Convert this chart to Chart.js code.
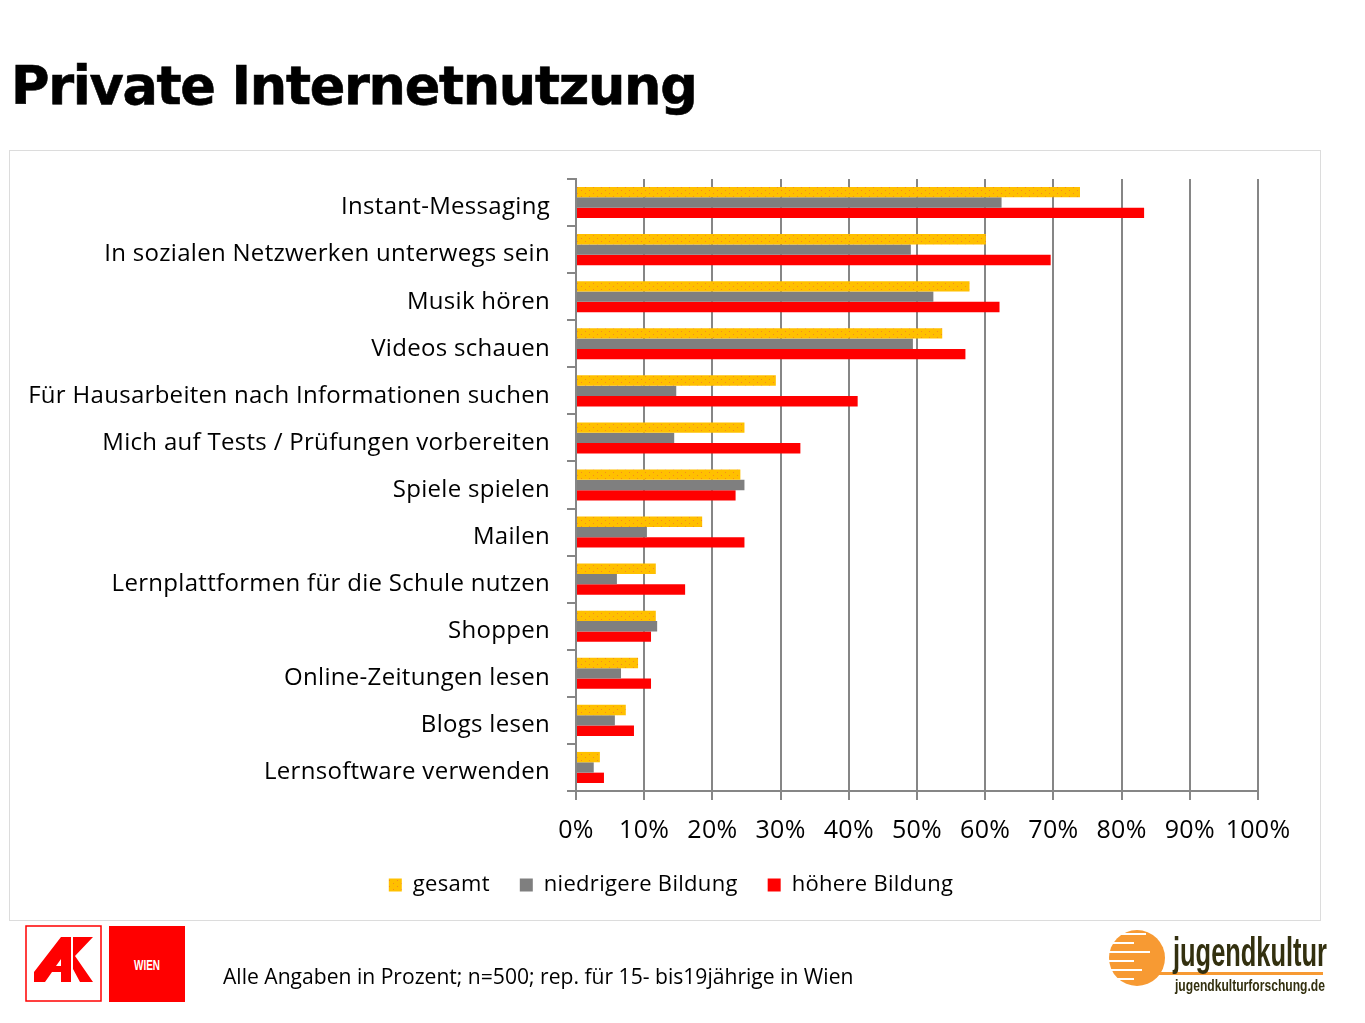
<!DOCTYPE html>
<html lang="de">
<head>
<meta charset="utf-8">
<title>Private Internetnutzung</title>
<script src="https://cdn.jsdelivr.net/npm/chart.js@4"></script>
<style>
    html, body { margin: 0; padding: 0; background: #fff; }
    #page { position: relative; width: 1365px; height: 1023px; overflow: hidden; }
    #page > * { position: absolute; }
    #title { left: 11px; top: 55px; margin: 0; font: bold 52.5px "DejaVu Sans"; letter-spacing: -1.3px; -webkit-text-stroke: 0.6px #000; color: #000; white-space: nowrap; }
    #frame { left: 9px; top: 150px; width: 1310px; height: 769px; border: 1px solid #dcdcdc; }
    #chart { left: 0; top: 0; }
    #note { left: 223px; top: 961px; font: 21.1px "Open Sans"; color: #000; white-space: nowrap; }
    #akLogo { left: 25px; top: 925px; }
    #jkLogo { left: 1100px; top: 925px; }
</style>
</head>
<body>
<div id="page">
    <h1 id="title">Private Internetnutzung</h1>
    <div id="frame"></div>
    <canvas id="chart" width="1365" height="1023"></canvas>
    <div id="note">Alle Angaben in Prozent; n=500; rep. für 15- bis19jährige in Wien</div>

    <svg id="akLogo" width="162" height="80" viewBox="0 0 162 80">
        <rect x="1" y="1" width="75" height="75" fill="#fff" stroke="#f00" stroke-width="1.5"/>
        <rect x="84" y="1" width="76" height="76" fill="#f00"/>
        <polygon fill="#f00" points="9,47 36,12 46,12 46,57 36,57 36,47 27,47 20,57 9,57"/>
        <polygon fill="#fff" points="31,41 36,41 36,34"/>
        <polygon fill="#f00" points="48,12 68,12 50,31 68,57 55,57 48,44"/>
        <text x="122" y="45" textLength="26" lengthAdjust="spacingAndGlyphs" text-anchor="middle" fill="#fff" font-family="Liberation Sans" font-weight="bold" font-size="15">WIEN</text>
    </svg>

    <svg id="jkLogo" width="240" height="80" viewBox="0 0 240 80">
        <circle cx="37" cy="33" r="28" fill="#f79a33"/>
        <rect x="50" y="47" width="173" height="3" fill="#f79a33"/>
        <g fill="#fff">
            <rect x="6" y="8" width="40" height="2"/>
            <rect x="6" y="17" width="28" height="2"/>
            <rect x="6" y="26" width="44" height="2"/>
            <rect x="6" y="35" width="28" height="2"/>
            <rect x="6" y="44" width="36" height="2"/>
            <rect x="6" y="53" width="28" height="2"/>
        </g>
        <text x="73" y="41" textLength="154" lengthAdjust="spacingAndGlyphs" fill="#33300f" font-family="Liberation Sans" font-weight="bold" font-size="40">jugendkultur</text>
        <text x="75" y="66" textLength="150" lengthAdjust="spacingAndGlyphs" fill="#33300f" font-family="Liberation Sans" font-weight="bold" font-size="16">jugendkulturforschung.de</text>
    </svg>
</div>

<script>
const categories = [
    'Instant-Messaging',
    'In sozialen Netzwerken unterwegs sein',
    'Musik hören',
    'Videos schauen',
    'Für Hausarbeiten nach Informationen suchen',
    'Mich auf Tests / Prüfungen vorbereiten',
    'Spiele spielen',
    'Mailen',
    'Lernplattformen für die Schule nutzen',
    'Shoppen',
    'Online-Zeitungen lesen',
    'Blogs lesen',
    'Lernsoftware verwenden'
];
const gesamt = [73.9, 60.1, 57.7, 53.7, 29.3, 24.7, 24.1, 18.5, 11.7, 11.7, 9.1, 7.3, 3.5];
const niedrigereBildung = [62.4, 49.1, 52.4, 49.4, 14.7, 14.4, 24.7, 10.4, 6.0, 11.9, 6.6, 5.7, 2.6];
const hoehereBildung = [83.3, 69.6, 62.1, 57.1, 41.3, 32.9, 23.4, 24.7, 16.0, 11.0, 11.0, 8.5, 4.1];

/* yellow fill with the sparse orange dots of the original */
function dottedFill() {
    const c = document.createElement('canvas');
    c.width = 8;
    c.height = 6;
    const p = c.getContext('2d');
    p.fillStyle = '#ffc000';
    p.fillRect(0, 0, 8, 6);
    p.fillStyle = '#f58a1f';
    p.fillRect(1, 1, 1, 1);
    p.fillRect(5, 4, 1, 1);
    return p.createPattern(c, 'repeat');
}

/* wider text spacing, and the legend centred under the frame, not under the axis box */
const pageTweaks = {
    id: 'pageTweaks',
    beforeLayout(chart) {
        chart.ctx.letterSpacing = '0.3px';
    },
    afterLayout(chart) {
        chart.legend.left += 84;
    }
};

const ctx = document.getElementById('chart').getContext('2d');
new Chart(ctx, {
    type: 'bar',
    plugins: [pageTweaks],
    data: {
        labels: categories,
        datasets: [
            { label: 'gesamt', data: gesamt, backgroundColor: dottedFill() },
            { label: 'niedrigere Bildung', data: niedrigereBildung, backgroundColor: '#7f7f7f' },
            { label: 'höhere Bildung', data: hoehereBildung, backgroundColor: '#ff0000' }
        ]
    },
    options: {
        indexAxis: 'y',
        responsive: false,
        animation: false,
        categoryPercentage: 0.66,
        barPercentage: 1,
        layout: { padding: { left: 0, right: 107, top: 179, bottom: 117 } },
        plugins: {
            tooltip: { enabled: false },
            legend: {
                position: 'bottom',
                labels: {
                    boxWidth: 13,
                    boxHeight: 13,
                    padding: 30,
                    color: '#000',
                    font: { family: 'Open Sans', size: 22 }
                }
            }
        },
        scales: {
            x: {
                min: 0,
                max: 100,
                afterFit: s => { s.height = 53; },
                ticks: {
                    stepSize: 10,
                    padding: 16,
                    maxRotation: 0,
                    color: '#000',
                    font: { family: 'Open Sans', size: 25 },
                    callback: v => v + '%'
                },
                grid: { color: '#868686', lineWidth: 2, tickLength: 9 },
                border: { color: '#868686', width: 2 }
            },
            y: {
                afterFit: s => { s.width = 576; },
                ticks: {
                    autoSkip: false,
                    padding: 17,
                    labelOffset: 5,
                    color: '#000',
                    font: { family: 'Open Sans', size: 24 }
                },
                grid: { offset: true, drawOnChartArea: false, color: '#868686', lineWidth: 2, tickLength: 9 },
                border: { color: '#868686', width: 2 }
            }
        }
    }
});
</script>
</body>
</html>
